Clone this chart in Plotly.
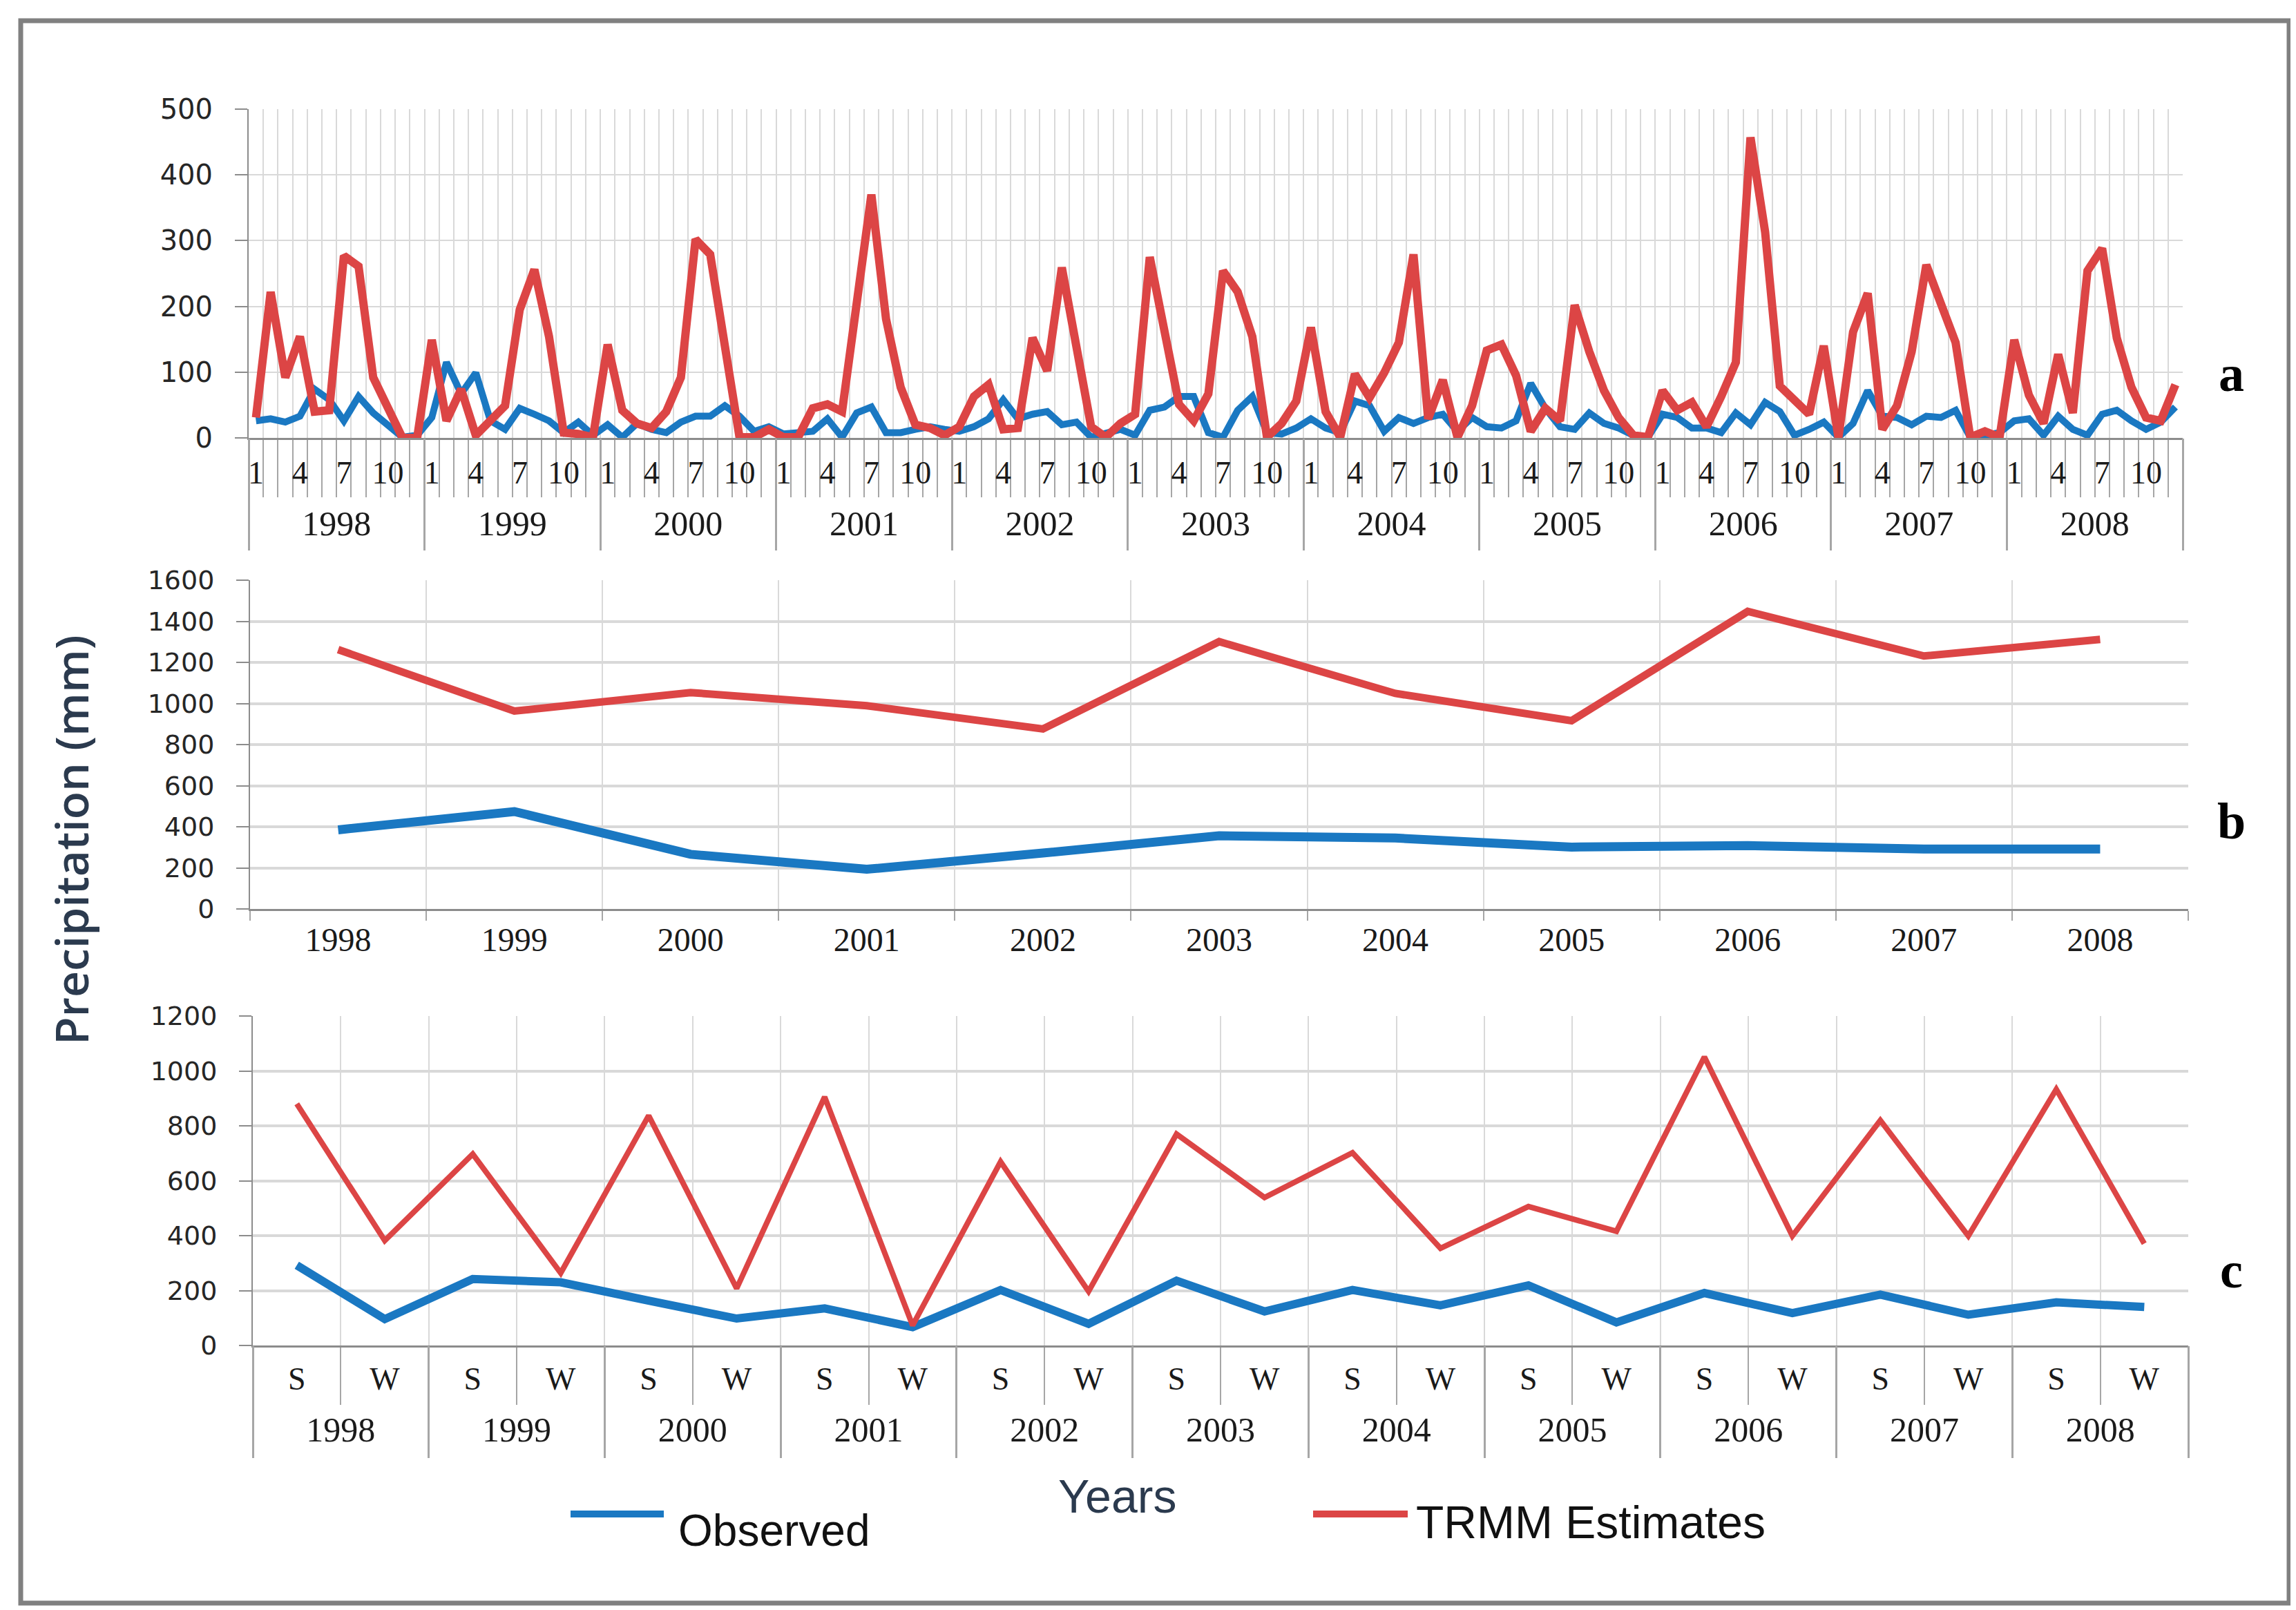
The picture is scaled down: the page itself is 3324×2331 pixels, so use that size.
import plotly.graph_objects as go
from plotly.subplots import make_subplots

# -------------------------------
# DATA
# -------------------------------

years = ['1998', '1999', '2000', '2001', '2002', '2003', '2004', '2005', '2006', '2007', '2008']
months = list(range(1, 13))
# only months 1, 4, 7, 10 carry a label
month_text = ['1', '', '', '4', '', '', '7', '', '', '10', '', '']
seasons = ['S', 'W']

obs_monthly = [
    26, 29, 24, 33, 74, 58, 26, 63, 38, 20, 1, 4,
    31, 115, 67, 99, 26, 13, 45, 36, 26, 8, 24, 4,
    20, 1, 22, 13, 8, 24, 33, 33, 49, 33, 10, 17,
    6, 8, 10, 29, 1, 38, 47, 8, 8, 13, 17, 13,
    10, 17, 29, 58, 29, 36, 40, 20, 24, 1, 8, 13,
    4, 42, 47, 63, 63, 8, 1, 42, 63, 8, 6, 15,
    29, 15, 8, 56, 49, 10, 31, 22, 31, 36, 10, 31,
    17, 15, 26, 83, 45, 17, 13, 38, 22, 15, 4, 1,
    36, 31, 15, 15, 8, 38, 20, 54, 40, 4, 13, 24,
    1, 22, 72, 33, 31, 20, 33, 31, 42, 1, 4, 8,
    26, 29, 4, 33, 13, 4, 36, 42, 26, 13, 24, 47,
]
trmm_monthly = [
    31, 222, 92, 154, 40, 42, 277, 261, 92, 45, 0, 0,
    149, 26, 74, 4, 26, 49, 195, 256, 154, 8, 6, 1,
    142, 42, 22, 15, 40, 92, 302, 279, 140, 1, 1, 13,
    1, 1, 45, 51, 40, 205, 370, 181, 77, 20, 15, 4,
    17, 63, 81, 13, 15, 152, 102, 259, 135, 17, 1, 22,
    36, 275, 163, 51, 26, 67, 254, 222, 154, 1, 22, 56,
    168, 40, 1, 97, 61, 99, 145, 279, 29, 88, 1, 49,
    133, 142, 95, 10, 45, 26, 202, 131, 72, 31, 4, 1,
    72, 42, 54, 17, 63, 115, 457, 313, 79, 58, 36, 140,
    1, 161, 220, 13, 49, 131, 263, 204, 145, 1, 10, 1,
    149, 65, 22, 127, 38, 254, 288, 152, 77, 31, 26, 81,
]

obs_annual = [385, 474, 266, 193, 272, 356, 345, 301, 308, 292, 292]
trmm_annual = [1262, 963, 1053, 989, 876, 1301, 1049, 916, 1448, 1231, 1312]

obs_seasonal = [292, 96, 242, 230, 163, 98, 135, 67, 202, 79, 236, 124,
                202, 146, 219, 84, 191, 118, 185, 112, 157, 140]
trmm_seasonal = [880, 382, 697, 264, 837, 208, 905, 73, 669, 197, 770, 539,
                 702, 354, 506, 416, 1051, 399, 820, 399, 933, 371]

# category keys for the x axes
month_keys = [f'{y}-{m:02d}' for y in years for m in months]
month_ticktext = month_text * len(years)
season_keys = [f'{y} {s}' for y in years for s in seasons]
season_ticktext = seasons * len(years)
year_centres = [i + 0.5 for i in range(len(years))]
year_bounds = list(range(len(years) + 1))

# -------------------------------
# STYLE
# -------------------------------

W, H = 3324, 2331
BLUE = '#1a78c2'
RED = '#dc4545'
GRID = '#d9d9d9'
AXIS = '#8c8c8c'
TICK = '#a6a6a6'


def px(x):
    return x / W


def py(y):
    return 1 - y / H


fig = make_subplots(rows=3, cols=1)

# -------------------------------
# a : MONTHLY
# -------------------------------

fig.add_trace(go.Scatter(x=month_keys, y=obs_monthly, mode='lines', name='Observed',
                         line=dict(color=BLUE, width=10)), row=1, col=1)
fig.add_trace(go.Scatter(x=month_keys, y=trmm_monthly, mode='lines', name='TRMM Estimates',
                         line=dict(color=RED, width=12)), row=1, col=1)

# -------------------------------
# b : ANNUAL
# -------------------------------

fig.add_trace(go.Scatter(x=years, y=obs_annual, mode='lines', name='Observed',
                         line=dict(color=BLUE, width=13)), row=2, col=1)
fig.add_trace(go.Scatter(x=years, y=trmm_annual, mode='lines', name='TRMM Estimates',
                         line=dict(color=RED, width=11)), row=2, col=1)

# -------------------------------
# c : SEASONAL
# -------------------------------

fig.add_trace(go.Scatter(x=season_keys, y=obs_seasonal, mode='lines', name='Observed',
                         line=dict(color=BLUE, width=12)), row=3, col=1)
fig.add_trace(go.Scatter(x=season_keys, y=trmm_seasonal, mode='lines', name='TRMM Estimates',
                         line=dict(color=RED, width=8)), row=3, col=1)

serif = dict(family='Liberation Serif', size=46, color='#1a1a1a')
sans = dict(family='DejaVu Sans', size=38, color='#262626')

common_x = dict(type='category', showgrid=True, gridcolor=GRID, gridwidth=2, showline=True,
                linecolor=AXIS, linewidth=3, ticks='outside', tickson='boundaries',
                tickcolor=TICK, tickwidth=2, tickfont=serif, tickangle=0, automargin=False)
common_y = dict(showgrid=True, gridcolor=GRID, showline=True, linecolor=AXIS, linewidth=2,
                ticks='outside', ticklen=18, tickcolor=AXIS, tickwidth=2, zeroline=False,
                tickfont=sans, ticklabelstandoff=24, automargin=False)
# year row under the months / seasons: labels at the centres, long ticks at the boundaries
year_row = dict(type='linear', range=[0, len(years)], side='bottom', showgrid=False,
                showline=False, zeroline=False, tickmode='array', tickvals=year_centres,
                ticktext=years, ticks='', tickfont=dict(serif, size=50), automargin=False,
                minor=dict(tickmode='array', tickvals=year_bounds, ticks='outside',
                           ticklen=162, tickcolor=TICK, tickwidth=3, showgrid=False))

fig.update_layout(
    xaxis=dict(common_x, domain=[px(352), px(3152)], ticklen=83,
               range=[-0.5, len(month_keys) - 0.5], tickmode='array',
               tickvals=month_keys, ticktext=month_ticktext, ticklabelstandoff=8),
    yaxis=dict(common_y, range=[0, 500], dtick=100, gridwidth=2,
               domain=[py(626), py(150)], tickfont=dict(sans, size=40)),
    xaxis2=dict(common_x, domain=[px(354), px(3160)], ticklen=14,
                range=[-0.5, len(years) - 0.5], tickfont=dict(serif, size=48)),
    yaxis2=dict(common_y, range=[0, 1600], dtick=200, gridwidth=4,
                domain=[py(1308), py(832)]),
    xaxis3=dict(common_x, domain=[px(358), px(3160)], ticklen=83,
                range=[-0.5, len(season_keys) - 0.5], tickmode='array',
                tickvals=season_keys, ticktext=season_ticktext, ticklabelstandoff=6),
    yaxis3=dict(common_y, range=[0, 1200], dtick=200, gridwidth=4,
                domain=[py(1940), py(1463)]),
    xaxis4=dict(year_row, overlaying='x', anchor='y', ticklabelstandoff=90),
    xaxis5=dict(year_row, overlaying='x3', anchor='y3', ticklabelstandoff=88),
)

# empty traces so the year rows get drawn
fig.add_trace(go.Scatter(x=[], y=[], xaxis='x4', yaxis='y', hoverinfo='skip'))
fig.add_trace(go.Scatter(x=[], y=[], xaxis='x5', yaxis='y3', hoverinfo='skip'))

# -------------------------------
# LABELS, LEGEND, FRAME
# -------------------------------

panel_letters = [('a', 533), ('b', 1181), ('c', 1831)]
for letter, ypos in panel_letters:
    fig.add_annotation(text=letter, x=px(3222), y=py(ypos), xref='paper', yref='paper',
                       xanchor='center', yanchor='middle', showarrow=False,
                       font=dict(family='Liberation Serif', size=74, color='black',
                                 weight='bold'))

fig.add_annotation(text='Precipitation (mm)', x=px(94), y=py(1208), xref='paper', yref='paper',
                   xanchor='center', yanchor='middle', textangle=-90, showarrow=False,
                   font=dict(family='Open Sans', size=66, color='#2b3a4e', weight=600))

fig.add_annotation(text='Years', x=px(1609), y=py(2158), xref='paper', yref='paper',
                   xanchor='center', yanchor='middle', showarrow=False,
                   font=dict(family='Liberation Sans', size=68, color='#2b3a4e'))

legend_items = [
    dict(name='Observed', color=BLUE, x0=818, x1=953, tx=972, ty=2208, size=64),
    dict(name='TRMM Estimates', color=RED, x0=1893, x1=2030, tx=2040, ty=2196, size=66),
]
for item in legend_items:
    fig.add_shape(type='line', xref='paper', yref='paper', x0=px(item['x0']), x1=px(item['x1']),
                  y0=py(2184), y1=py(2184), line=dict(color=item['color'], width=10))
    fig.add_annotation(text=item['name'], x=px(item['tx']), y=py(item['ty']), xref='paper',
                       yref='paper', xanchor='left', yanchor='middle', showarrow=False,
                       font=dict(family='Liberation Sans', size=item['size'], color='#111111'))

fig.add_shape(type='rect', xref='paper', yref='paper', x0=px(22), x1=px(3306), y0=py(22),
              y1=py(2313), line=dict(color='#808080', width=7))

fig.update_layout(
    width=W,
    height=H,
    autosize=False,
    showlegend=False,
    plot_bgcolor='white',
    paper_bgcolor='white',
    margin=dict(l=0, r=0, t=0, b=0, autoexpand=False),
)

fig.write_html("out.html")
